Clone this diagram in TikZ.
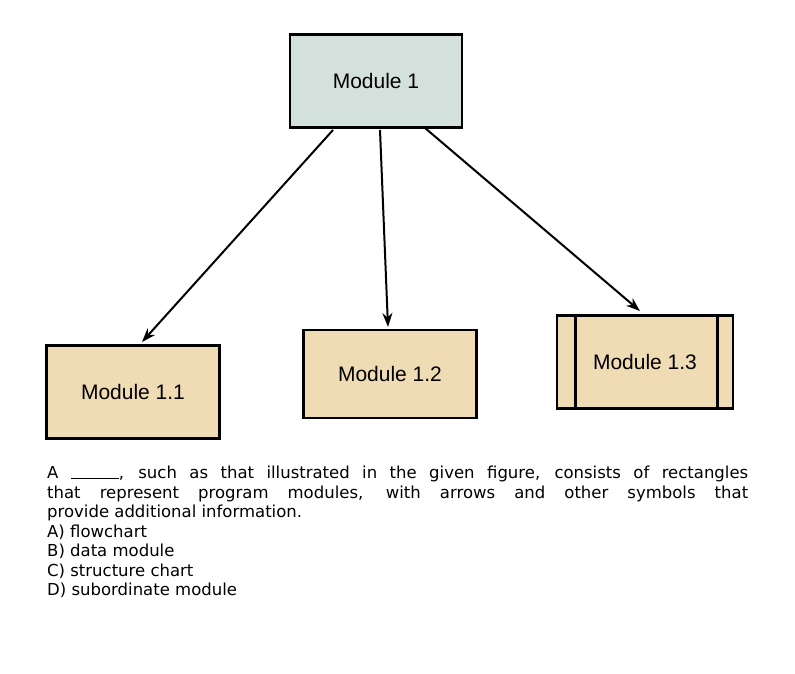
\documentclass[tikz,border=0pt]{standalone}
\usetikzlibrary{arrows.meta}
\usepackage{fontspec}
\setmainfont{Liberation Sans}
\newfontfamily\qfont{DejaVu Sans}
\definecolor{topfill}{HTML}{D3E0DC}
\definecolor{modfill}{HTML}{F0DCB4}
\begin{document}
\begin{tikzpicture}[x=1pt,y=-1pt,
  modbox/.style={draw=black,line width=2.6pt,fill=modfill,minimum width=173pt,minimum height=93pt,font=\fontsize{21}{25}\selectfont},
  arr/.style={-{Stealth[length=14pt,width=10pt]},line width=2pt}]
\useasboundingbox (0,0) rectangle (795,674);
\fill[white] (0,0) rectangle (795,674);
\node[modbox,fill=topfill,minimum width=172pt] (m1) at (376,81) {Module 1};
\node[modbox] (m11) at (133,392) {Module 1.1};
\node[modbox,minimum height=88pt] (m12) at (390,374) {Module 1.2};
\node[modbox,minimum width=176pt] (m13) at (645,362) {Module 1.3};
\draw[line width=2.6pt] ([xshift=20pt]m13.north west) -- ([xshift=20pt]m13.south west);
\draw[line width=2.6pt] ([xshift=-17pt]m13.north east) -- ([xshift=-17pt]m13.south east);
\coordinate (s1) at (333,130);
\coordinate (s2) at (380,130);
\coordinate (s3) at (425,128);
\coordinate (e1) at (142,342);
\coordinate (e2) at (388,327);
\coordinate (e3) at (640,311);
\draw[arr] (s1) -- (e1);
\draw[arr] (s2) -- (e2);
\draw[arr] (s3) -- (e3);
\node[anchor=north west,text width=701pt,align=justify,inner sep=0pt,font=\qfont\fontsize{16.5}{19.5}\selectfont] (q) at (47,466)
{A \rule{48pt}{0.6pt}, such as that illustrated in the given figure, consists of rectangles\linebreak
that represent program modules, with arrows and other symbols that\linebreak
provide additional information.\newline
A) flowchart\newline
B) data module\newline
C) structure chart\newline
D) subordinate module};
\end{tikzpicture}
\end{document}
